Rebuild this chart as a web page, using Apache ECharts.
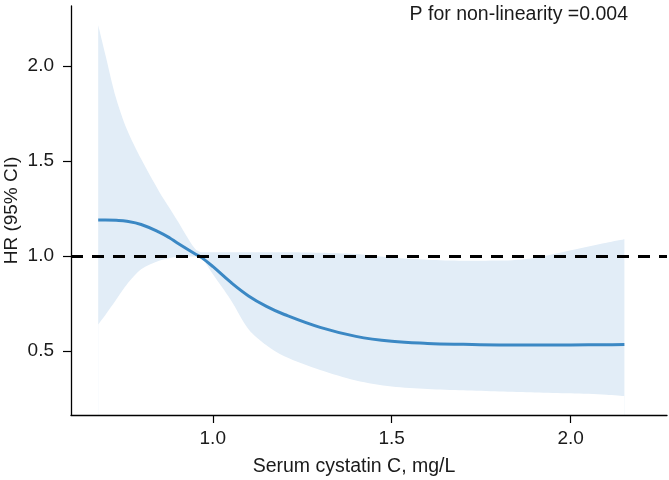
<!DOCTYPE html>
<html>
<head>
<meta charset="utf-8">
<script src="https://cdn.jsdelivr.net/npm/echarts@6/dist/echarts.min.js"></script>
<style>html,body{margin:0;padding:0;background:#fff}#c{width:669px;height:480px}</style>
</head>
<body>
<div id="c"></div>
<script>
// Serum cystatin C (mg/L)
const cystatin = [0.68,0.70,0.73,0.76,0.80,0.85,0.88,0.90,0.95,0.97,1.00,1.05,1.10,1.15,1.20,1.30,1.40,1.50,1.60,1.70,1.80,1.90,2.00,2.10,2.15];
// Hazard ratio estimate
const hr = [1.19,1.19,1.188,1.183,1.166,1.126,1.095,1.07,1.012,0.99,0.945,0.862,0.79,0.735,0.692,0.624,0.577,0.551,0.54,0.535,0.532,0.532,0.532,0.533,0.534];
// 95% CI bounds
const ciLower = [0.64,0.69,0.77,0.85,0.93,0.975,0.99,0.995,0.997,0.985,0.905,0.77,0.615,0.53,0.472,0.40,0.345,0.313,0.30,0.293,0.287,0.282,0.277,0.27,0.263];
const ciUpper = [2.216,2.06,1.83,1.667,1.51,1.34,1.25,1.19,1.04,1.02,1.02,1.02,1.02,1.02,1.02,1.017,1.01,0.992,0.98,0.975,0.976,0.99,1.03,1.07,1.088];
// Axis ticks
const xTicks = [1.0, 1.5, 2.0];
const yTicks = [0.5, 1.0, 1.5, 2.0];
const refHR = 1.0;
const pText = 'P for non-linearity =0.004';

const font = '"Liberation Sans", Arial, Helvetica, sans-serif';
const txt = '#1a1a1a';
const fs = 19;

const lowerData = cystatin.map((x, i) => [x, ciLower[i]]);
const upperData = cystatin.map((x, i) => [x, ciUpper[i]]);
const hrData = cystatin.map((x, i) => [x, hr[i]]);

const chart = echarts.init(document.getElementById('c'), null, {renderer: 'canvas'});
chart.setOption({
  animation: false,
  backgroundColor: '#fff',
  textStyle: {fontFamily: font},
  title: {
    text: pText,
    right: 36, top: 0,
    textStyle: {fontFamily: font, fontSize: 19.5, fontWeight: 'normal', color: txt}
  },
  grid: {left: 71, right: 2, top: 6, bottom: 65, outerBoundsMode: 'none', containLabel: false},
  xAxis: {
    type: 'value', min: 0.604, max: 2.269, z: 10,
    name: 'Serum cystatin C, mg/L', nameLocation: 'middle', nameGap: 42, nameMoveOverlap: false,
    nameTextStyle: {fontFamily: font, fontSize: 19.5, color: txt, padding: [0, 30, 0, 0]},
    axisLine: {lineStyle: {color: '#000', width: 1.3}},
    axisTick: {show: true, length: 8, lineStyle: {color: '#000', width: 1.2}, customValues: xTicks},
    axisLabel: {fontFamily: font, fontSize: fs, color: txt, margin: 14, customValues: xTicks,
      formatter: v => v.toFixed(1)},
    splitLine: {show: false}
  },
  yAxis: {
    type: 'value', min: 0.163, max: 2.316, z: 10,
    name: 'HR (95% CI)', nameLocation: 'middle', nameGap: 50, nameRotate: 90, nameMoveOverlap: false,
    nameTextStyle: {fontFamily: font, fontSize: fs, color: txt},
    axisLine: {show: true, lineStyle: {color: '#000', width: 1.3}},
    axisTick: {show: true, length: 8, lineStyle: {color: '#000', width: 1.2}, customValues: yTicks},
    axisLabel: {fontFamily: font, fontSize: fs, color: txt, margin: 17, customValues: yTicks,
      formatter: v => v.toFixed(1)},
    splitLine: {show: false}
  },
  series: [
    {
      type: 'line', data: upperData, symbol: 'none', smooth: 0.3,
      lineStyle: {width: 0, opacity: 0},
      areaStyle: {color: '#e2edf7', opacity: 1, origin: 'start'}, silent: true, z: 1
    },
    {
      type: 'line', data: lowerData, symbol: 'none', smooth: 0.3,
      lineStyle: {width: 0, opacity: 0},
      areaStyle: {color: '#ffffff', opacity: 1, origin: 'start'}, silent: true, z: 2
    },
    {
      type: 'line', data: hrData, symbol: 'none', smooth: 0.4,
      lineStyle: {color: '#3b88c4', width: 3}, z: 4,
      markLine: {
        silent: true, symbol: 'none', label: {show: false},
        lineStyle: {color: '#000', width: 3, type: [12, 9]},
        data: [{yAxis: refHR}]
      }
    }
  ]
});
</script>
</body>
</html>
